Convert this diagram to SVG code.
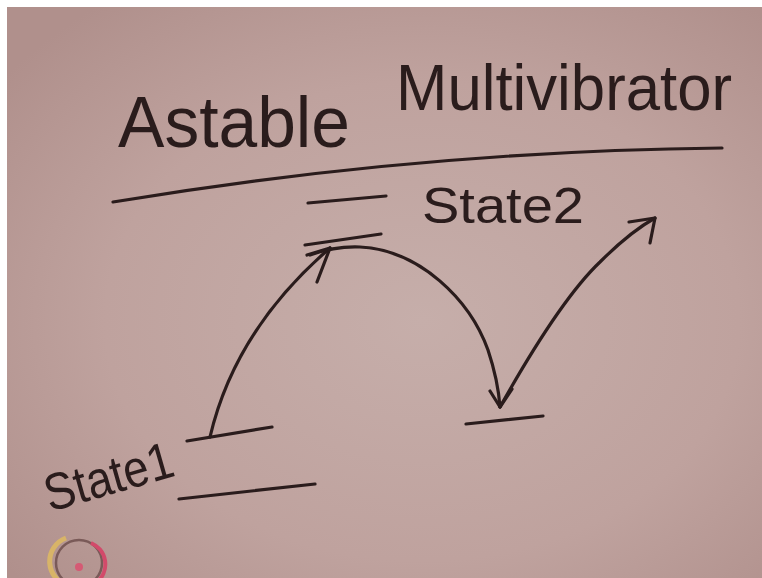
<svg xmlns="http://www.w3.org/2000/svg" width="762" height="578" viewBox="0 0 762 578">
<defs>
<radialGradient id="bg" cx="0.55" cy="0.55" r="0.7">
<stop offset="0" stop-color="#c6aeaa"/>
<stop offset="0.6" stop-color="#bfa29e"/>
<stop offset="1" stop-color="#b0908c"/>
</radialGradient>
<style>
.ink{fill:none;stroke:#2a1c1c;stroke-width:3.2;stroke-linecap:round;stroke-linejoin:round}
.txt{fill:#2a1c1c;font-family:"Liberation Sans","DejaVu Sans",sans-serif}
</style>
</defs>
<rect width="762" height="578" fill="#ffffff"/>
<rect x="7" y="7" width="755" height="571" fill="url(#bg)"/>

<g id="title">
<text class="txt" x="118" y="147" font-size="72" textLength="232" lengthAdjust="spacingAndGlyphs">Astable</text>
<text class="txt" x="396" y="110" font-size="64" textLength="336" lengthAdjust="spacingAndGlyphs">Multivibrator</text>
<path class="ink" d="M113,202 Q420,151 722,148"/>
</g>

<g id="state2">
<path class="ink" d="M308,203 L386,196"/>
<path class="ink" d="M305,245 L381,234"/>
<text class="txt" x="422" y="223" font-size="50" textLength="162" lengthAdjust="spacingAndGlyphs">State2</text>
</g>

<g id="state1">
<path class="ink" d="M187,441 L272,427"/>
<path class="ink" d="M179,499 L315,484"/>
<text class="txt" font-size="52" transform="translate(50,512) rotate(-16)" textLength="132" lengthAdjust="spacingAndGlyphs">State1</text>
</g>

<g id="state3">
<path class="ink" d="M466,424 L543,416"/>
</g>

<g id="connectors">
<path class="ink" d="M210,437 Q235,330 330,248"/>
<path class="ink" d="M330,248 L317,282 M330,248 L307,255"/>
<path class="ink" d="M310,255 Q335,246 360,247 C420,250 470,300 488,350 Q498,380 500,407"/>
<path class="ink" d="M500,407 L490,391 M500,407 L512,389"/>
<path class="ink" d="M500,407 Q560,300 600,262 Q630,232 655,218"/>
<path class="ink" d="M655,218 L629,222 M655,218 L650,243"/>
</g>

<g id="logo">
<path d="M70,586 A25,25 0 0 1 66,538" fill="none" stroke="#d8b468" stroke-width="5"/>
<circle cx="79" cy="563" r="23" fill="none" stroke="#7a5a58" stroke-width="2.5"/>
<path d="M91,543 A23,23 0 0 1 97,582" fill="none" stroke="#d24a6a" stroke-width="4"/>
<circle cx="79" cy="567" r="4" fill="#d55a74"/>
</g>
</svg>
